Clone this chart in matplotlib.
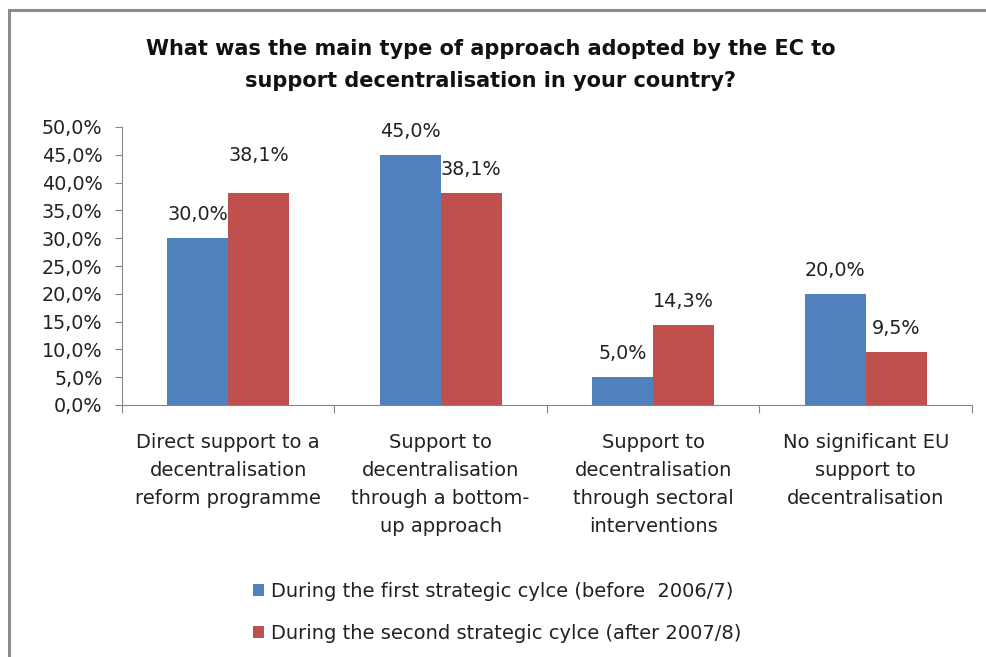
import matplotlib.pyplot as plt
import numpy as np
from matplotlib.patches import Rectangle
from matplotlib.ticker import FuncFormatter

# chart values
categories = ["Direct support to a\ndecentralisation\nreform programme",
              "Support to\ndecentralisation\nthrough a bottom-\nup approach",
              "Support to\ndecentralisation\nthrough sectoral\ninterventions",
              "No significant EU\nsupport to\ndecentralisation"]
first_cycle = [0.300, 0.450, 0.050, 0.200]
second_cycle = [0.381, 0.381, 0.143, 0.095]
series_names = ["During the first strategic cylce (before  2006/7)",
                "During the second strategic cylce (after 2007/8)"]

blue = "#4F81BD"
red = "#C0504D"
grey = "#868686"

fig = plt.figure(figsize=(9.87, 6.57), dpi=100)
ax = fig.add_axes([122/987, 1 - 405/657, 850/987, 278/657])

x = np.arange(len(categories))
w = 0.287
b1 = ax.bar(x - w/2, first_cycle, w, color=blue, label=series_names[0])
b2 = ax.bar(x + w/2, second_cycle, w, color=red, label=series_names[1])

def pct(v):
    return ("%.1f%%" % (v * 100)).replace(".", ",")

# data labels (first red label pushed up a bit like in the original)
extra = {(1, 0): 10}
for s, (bars, vals) in enumerate([(b1, first_cycle), (b2, second_cycle)]):
    for i, (bar, v) in enumerate(zip(bars, vals)):
        ax.annotate(pct(v), (bar.get_x() + bar.get_width()/2, v),
                    xytext=(0, 17 + extra.get((s, i), 0)), textcoords="offset points",
                    ha="center", va="center", fontsize=13.8, color="#222222")

ax.set_xlim(-0.5, len(categories) - 0.5)
ax.set_ylim(0, 0.5)
ax.set_yticks(np.arange(0, 0.501, 0.05))
ax.yaxis.set_major_formatter(FuncFormatter(lambda v, p: pct(v)))
ax.tick_params(axis="y", direction="out", length=5, color=grey, labelsize=13.8,
               pad=9, labelcolor="#222222")

ax.set_xticks(np.arange(-0.5, len(categories)), labels=[""] * (len(categories) + 1))
ax.set_xticks(x, labels=categories, minor=True)
ax.tick_params(axis="x", which="major", direction="out", length=6, color=grey)
ax.tick_params(axis="x", which="minor", length=0, pad=20)
for lab in ax.get_xticklabels(minor=True):
    lab.set_fontsize(14)
    lab.set_linespacing(1.6)
    lab.set_verticalalignment("top")
    lab.set_color("#222222")

for side in ["top", "right"]:
    ax.spines[side].set_visible(False)
for side in ["left", "bottom"]:
    ax.spines[side].set_color(grey)

fig.text(0.497, 1 - 65/657,
         "What was the main type of approach adopted by the EC to\nsupport decentralisation in your country?",
         ha="center", va="center", fontsize=15, fontweight="bold",
         linespacing=1.8, color="#111111")

leg = fig.legend(loc="upper left", bbox_to_anchor=(245/987, 1 - 574/657),
                 frameon=False, prop={"size": 14},
                 handlelength=0.6, handleheight=0.6, handletextpad=0.35,
                 labelspacing=1.2, borderaxespad=0)
for t in leg.get_texts():
    t.set_color("#222222")

# frame around the chart (right and bottom edges cut off in the original)
fig.patches.append(Rectangle((9/987, -0.1), 1.2, 1 - 10/657 + 0.1,
                             transform=fig.transFigure, fill=False,
                             edgecolor="#8c8c8c", linewidth=2.2))

fig.savefig("out.png", dpi=100)
